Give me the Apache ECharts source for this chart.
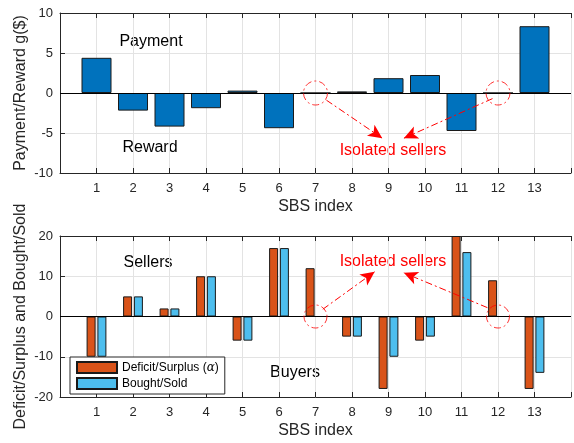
<!DOCTYPE html>
<html>
<head>
<meta charset="utf-8">
<script src="https://cdn.jsdelivr.net/npm/echarts@6/dist/echarts.min.js"></script>
<style>html,body{margin:0;padding:0;background:#fff;}#c{width:574px;height:443px;}</style>
</head>
<body>
<div id="c"></div>
<script>
const categories = [1,2,3,4,5,6,7,8,9,10,11,12,13];
const paymentReward = [4.4,-2.2,-4.2,-1.9,0.3,-4.4,0,0.2,1.85,2.25,-4.75,0,8.35];
const deficitSurplus = [-10,5,2,10,-6,17,12,-5,-18,-6,20,9,-18];
const boughtSold = [-10,5,2,10,-6,17,0,-5,-10,-5,16,0,-14];
const isolatedSellers = [7,12];
const topYTicks = [-10,-5,0,5,10];
const botYTicks = [-20,-10,0,10,20];

const FONT = 'Liberation Sans, Arial, Helvetica, sans-serif';
const AX = '#262626';
const GRIDC = '#e3e3e3';
const RED = '#ff0000';
const DASHDOT = [7,3,2,3];

const pairs = (vals) => categories.map((c,i) => [c, vals[i]]);

function xAxes(gridIndex) {
  return [{
    type:'value', gridIndex, min:0, max:14, interval:1, position:'bottom',
    name:'SBS index', nameLocation:'middle', nameGap:26, nameMoveOverlap:false,
    nameTextStyle:{fontSize:16, color:AX, fontFamily:FONT},
    axisLine:{onZero:false, lineStyle:{color:AX}},
    axisTick:{inside:true, length:5, lineStyle:{color:AX}},
    axisLabel:{fontSize:13, color:AX, margin:9, fontFamily:FONT,
      formatter: v => categories.indexOf(v) >= 0 ? String(v) : ''},
    splitLine:{show:true, lineStyle:{color:GRIDC}}
  },{
    type:'value', gridIndex, min:0, max:14, interval:1, position:'top',
    axisLine:{onZero:false, lineStyle:{color:AX}},
    axisTick:{inside:true, length:5, lineStyle:{color:AX}},
    axisLabel:{show:false}, splitLine:{show:false}
  }];
}
function yAxis(gridIndex, ticks, name) {
  return {
    type:'value', gridIndex, min:ticks[0], max:ticks[ticks.length-1],
    interval:ticks[1]-ticks[0],
    name, nameLocation:'middle', nameGap:31, nameMoveOverlap:false,
    nameTextStyle:{fontSize:16, color:AX, fontFamily:FONT},
    axisLine:{show:true, onZero:false, lineStyle:{color:AX}},
    axisTick:{show:true, inside:true, length:5, lineStyle:{color:AX}},
    axisLabel:{fontSize:13, color:AX, margin:7, fontFamily:FONT},
    splitLine:{show:true, lineStyle:{color:GRIDC}}
  };
}
const zeroLine = {silent:true, symbol:['none','none'], label:{show:false},
  lineStyle:{color:'#000', type:'solid', width:1}, data:[{yAxis:0}], animation:false};
function arrows(list) {
  return {silent:true, symbol:['none','arrow'], symbolSize:[10,14], label:{show:false},
    lineStyle:{color:RED, type:DASHDOT, width:1}, animation:false,
    data: list.map(a => [{coord:a[0]},{coord:a[1]}])};
}
const circleStyle = {color:'rgba(0,0,0,0)', borderColor:RED, borderWidth:1, borderType:DASHDOT};

const chart = echarts.init(document.getElementById('c'));
chart.setOption({
  animation:false,
  textStyle:{fontFamily:FONT},
  grid:[
    {left:60, top:13, width:520, height:160},
    {left:60, top:236, width:520, height:161}
  ],
  xAxis:[...xAxes(0), ...xAxes(1)],
  yAxis:[yAxis(0, topYTicks, 'Payment/Reward g($)'), yAxis(1, botYTicks, 'Deficit/Surplus and Bought/Sold')],
  legend:{
    data:['Deficit/Surplus (α)','Bought/Sold'],
    orient:'vertical', left:70, top:357, padding:[4,6,4,6],
    itemWidth:40, itemHeight:11, itemGap:3, icon:'rect',
    borderColor:AX, borderWidth:1, backgroundColor:'#fff',
    formatter: n => n === 'Deficit/Surplus (α)' ? '{n|Deficit/Surplus (}{i|α}{n|)}' : n,
    textStyle:{fontSize:12, color:'#000', fontFamily:FONT,
      rich:{n:{fontSize:12, fontFamily:FONT, color:'#000'}, i:{fontSize:12, fontStyle:'italic', fontFamily:'DejaVu Serif', color:'#000'}}}
  },
  series:[
    {type:'bar', name:'Payment/Reward', xAxisIndex:0, yAxisIndex:0, data:pairs(paymentReward),
     barWidth:30, itemStyle:{color:'#0072BD', borderColor:'#1a1a1a', borderWidth:1}, markLine:zeroLine, z:2},
    {type:'scatter', name:'iso1', xAxisIndex:0, yAxisIndex:0, data:isolatedSellers.map(x=>[x,0]),
     symbol:'circle', symbolSize:24, itemStyle:circleStyle, z:5,
     markLine:arrows([[[7.3,-0.9],[8.83,-5.65]],[[11.85,-0.7],[9.42,-5.65]]])},
    {type:'bar', name:'Deficit/Surplus (α)', xAxisIndex:2, yAxisIndex:1, data:pairs(deficitSurplus),
     barWidth:9, barGap:'20%', itemStyle:{color:'#D95319', borderColor:'#1a1a1a', borderWidth:1}, markLine:zeroLine, z:2},
    {type:'bar', name:'Bought/Sold', xAxisIndex:2, yAxisIndex:1, data:pairs(boughtSold),
     barWidth:9, barGap:'20%', itemStyle:{color:'#4DBEEE', borderColor:'#1a1a1a', borderWidth:1}, z:2},
    {type:'scatter', name:'iso2', xAxisIndex:2, yAxisIndex:1, data:isolatedSellers.map(x=>[x,0]),
     symbol:'circle', symbolSize:23, itemStyle:circleStyle, z:5,
     markLine:arrows([[[7.2,1.8],[8.62,11.1]],[[11.71,2.2],[9.42,10.85]]])}
  ],
  graphic:[
    {type:'text', x:151, y:42, style:{text:'Payment', font:'16px '+FONT, fill:'#000', textAlign:'center', textVerticalAlign:'middle'}},
    {type:'text', x:150, y:148, style:{text:'Reward', font:'16px '+FONT, fill:'#000', textAlign:'center', textVerticalAlign:'middle'}},
    {type:'text', x:393, y:151, style:{text:'Isolated sellers', font:'16px '+FONT, fill:RED, textAlign:'center', textVerticalAlign:'middle'}},
    {type:'text', x:148, y:263, style:{text:'Sellers', font:'16px '+FONT, fill:'#000', textAlign:'center', textVerticalAlign:'middle'}},
    {type:'text', x:295, y:373, style:{text:'Buyers', font:'16px '+FONT, fill:'#000', textAlign:'center', textVerticalAlign:'middle'}},
    {type:'text', x:393, y:262, style:{text:'Isolated sellers', font:'16px '+FONT, fill:RED, textAlign:'center', textVerticalAlign:'middle'}}
  ]
});
</script>
</body>
</html>
